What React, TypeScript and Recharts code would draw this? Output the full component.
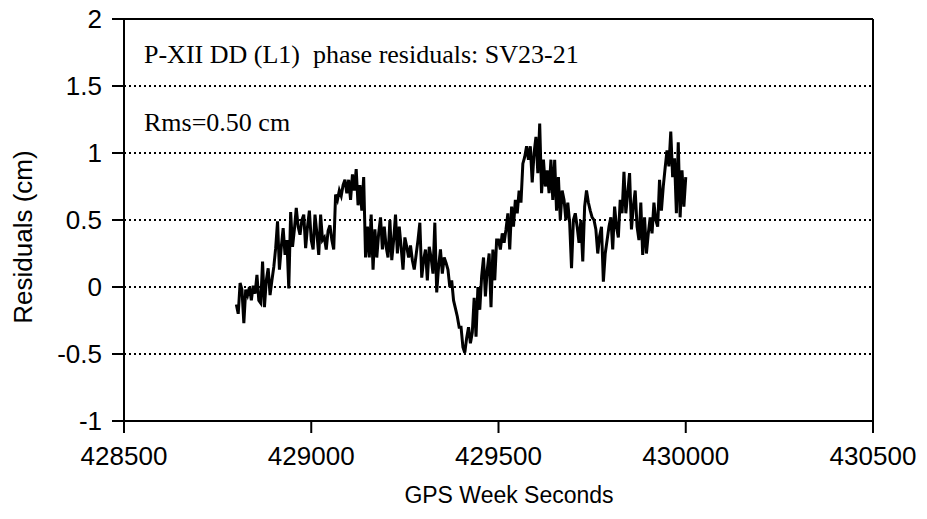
import React from "react";
import {
  LineChart,
  Line,
  XAxis,
  YAxis,
  CartesianGrid,
  ReferenceLine,
} from "recharts";

// double-difference phase residuals, one sample every 5 s from 428800
const START_SECOND = 428800;
const STEP_SECONDS = 5;

const residuals = [
  -0.13, -0.2, 0.03, -0.02, -0.27, -0.02, -0.06, 0.0, -0.1, 0.01,
  -0.05, 0.09, -0.1, -0.12, 0.19, -0.15, 0.05, 0.14, -0.06, 0.05,
  0.15, 0.29, 0.49, 0.13, 0.3, 0.44, 0.24, 0.35, -0.01, 0.56,
  0.3, 0.43, 0.59, 0.45, 0.39, 0.5, 0.54, 0.29, 0.45, 0.57,
  0.35, 0.28, 0.54, 0.4, 0.24, 0.54, 0.35, 0.37, 0.28, 0.42,
  0.46, 0.35, 0.28, 0.69, 0.65, 0.72, 0.68, 0.76, 0.8, 0.7,
  0.8, 0.65, 0.84, 0.72, 0.88, 0.61, 0.76, 0.57, 0.82, 0.22,
  0.45, 0.22, 0.54, 0.13, 0.43, 0.22, 0.4, 0.52, 0.28, 0.45,
  0.3, 0.22, 0.5, 0.2, 0.35, 0.54, 0.25, 0.45, 0.3, 0.13,
  0.37, 0.3, 0.22, 0.31, 0.2, 0.13, 0.24, 0.35, 0.48, 0.07,
  0.2, 0.28, 0.05, 0.3, 0.22, 0.1, 0.48, -0.04, 0.15, 0.28,
  0.1, 0.22, 0.18, 0.13, 0.0, 0.05, -0.1, -0.16, -0.22, -0.3,
  -0.3, -0.45, -0.49, -0.38, -0.3, -0.42, -0.34, -0.08, -0.37, 0.0,
  -0.17, 0.08, 0.22, -0.07, 0.13, 0.25, -0.15, 0.28, 0.05, 0.35,
  0.35, 0.28, 0.4, 0.33, 0.43, 0.55, 0.28, 0.6, 0.45, 0.65,
  0.55, 0.72, 0.63, 0.92, 0.97, 1.05, 0.95, 1.05, 0.78, 1.0,
  1.12, 0.85, 1.22, 0.7, 0.95, 0.75, 0.87, 0.7, 0.95, 0.65,
  0.95, 0.57, 0.82, 0.5, 0.72, 0.65, 0.5, 0.63, 0.48, 0.14,
  0.5, 0.55, 0.45, 0.33, 0.5, 0.19, 0.6, 0.72, 0.63, 0.57,
  0.52, 0.5, 0.43, 0.25, 0.38, 0.45, 0.04, 0.25, 0.35, 0.45,
  0.52, 0.28, 0.6, 0.45, 0.37, 0.65, 0.55, 0.86, 0.55, 0.7,
  0.85, 0.43, 0.6, 0.72, 0.45, 0.35, 0.63, 0.24, 0.52, 0.25,
  0.4, 0.52, 0.4, 0.63, 0.5, 0.45, 0.8, 0.57, 0.75, 0.89,
  1.02, 0.9, 1.16, 0.82, 0.96, 0.55, 1.08, 0.52, 0.87, 0.6,
  0.82,
];

const xTicks = [428500, 429000, 429500, 430000, 430500];
const yTicks = [-1, -0.5, 0, 0.5, 1, 1.5, 2];
const gridLevels = [-0.5, 0, 0.5, 1, 1.5];

const SANS = "'Liberation Sans', Arial, sans-serif";
const SERIF = "'Liberation Serif', 'Times New Roman', serif";

const data = residuals.map((r, i) => ({
  t: START_SECOND + i * STEP_SECONDS,
  r,
}));

const tickStyle = { fill: "#000", fontSize: 26, fontFamily: SANS };

export default function App() {
  return (
    <div
      style={{
        position: "absolute",
        left: 0,
        top: 0,
        width: 927,
        height: 519,
        background: "#fff",
      }}
    >
      <LineChart
        width={927}
        height={519}
        data={data}
        margin={{ top: 19, right: 54, bottom: 0, left: 0 }}
      >
        <CartesianGrid
          vertical={false}
          horizontalValues={gridLevels}
          stroke="#000"
          strokeWidth={2}
          strokeDasharray="2 3"
        />
        <XAxis
          dataKey="t"
          type="number"
          domain={[428500, 430500]}
          ticks={xTicks}
          height={98}
          tick={tickStyle}
          tickSize={12}
          tickMargin={14}
          axisLine={{ stroke: "#000", strokeWidth: 2 }}
          tickLine={{ stroke: "#000", strokeWidth: 2 }}
        />
        <YAxis
          type="number"
          domain={[-1, 2]}
          ticks={yTicks}
          width={124}
          tick={tickStyle}
          tickSize={12}
          tickMargin={10}
          axisLine={{ stroke: "#000", strokeWidth: 2 }}
          tickLine={{ stroke: "#000", strokeWidth: 2 }}
        />
        <ReferenceLine y={2} stroke="#000" strokeWidth={2} />
        <ReferenceLine x={430500} stroke="#000" strokeWidth={2} />
        <Line
          type="linear"
          dataKey="r"
          stroke="#000"
          strokeWidth={3}
          strokeLinejoin="miter"
          dot={false}
          isAnimationActive={false}
        />
      </LineChart>

      <svg
        width={927}
        height={519}
        style={{ position: "absolute", left: 0, top: 0, pointerEvents: "none" }}
      >
        <text
          x={144}
          y={63}
          fontFamily={SERIF}
          fontSize={26}
          fill="#000"
          style={{ whiteSpace: "pre" }}
        >
          P-XII DD (L1)  phase residuals: SV23-21
        </text>
        <text x={144} y={131} fontFamily={SERIF} fontSize={26} fill="#000">
          Rms=0.50 cm
        </text>
        <text
          x={32}
          y={237}
          transform="rotate(-90 32 237)"
          textAnchor="middle"
          fontFamily={SANS}
          fontSize={26}
          fill="#000"
        >
          Residuals (cm)
        </text>
        <text
          x={509}
          y={503}
          textAnchor="middle"
          fontFamily={SANS}
          fontSize={23}
          fill="#000"
        >
          GPS Week Seconds
        </text>
      </svg>
    </div>
  );
}
